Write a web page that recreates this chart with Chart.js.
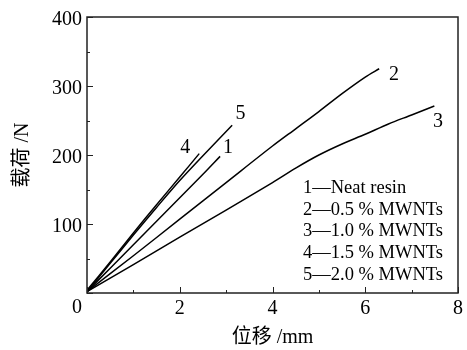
<!DOCTYPE html>
<html>
<head>
<meta charset="utf-8">
<script src="https://cdn.jsdelivr.net/npm/chart.js@4/dist/chart.umd.min.js"></script>
<style>
  html, body { margin: 0; padding: 0; background: #fff; }
  #wrap { width: 467px; height: 350px; }
</style>
</head>
<body>
<div id="wrap"><canvas id="chart"></canvas></div>
<script>
// 位移 (mm) / 载荷 (N)
const xNeat = [0, 0.5, 1, 1.5, 2, 2.5, 2.87];
const yNeat = [2, 36, 70, 104, 138, 172, 198];

const x05 = [0, 1, 2, 3, 4, 4.5, 5, 5.5, 6, 6.3];
const y05 = [2, 54, 107, 160, 213, 238, 263, 289, 313, 325];

const x10 = [0, 1, 2, 3, 4, 4.5, 5, 5.5, 6, 6.5, 7, 7.49];
const y10 = [2, 41, 81, 120, 160, 181, 200, 216, 230, 245, 258, 271];

const x15 = [0, 0.5, 1, 1.5, 2, 2.42];
const y15 = [4, 45, 87, 128, 168, 202];

const x20 = [0, 0.5, 1, 1.5, 2, 2.5, 3.13];
const y20 = [2, 43, 84, 124, 163, 199, 243];

// 曲线编号标注（数据坐标）
const curveTags = ['1', '2', '3', '4', '5'];
const tagX = [3.04, 6.62, 7.57, 2.12, 3.31];
const tagY = [210, 317, 248, 210, 260];

// 图例文字
const legendLines = [
  '1—Neat resin',
  '2—0.5 % MWNTs',
  '3—1.0 % MWNTs',
  '4—1.5 % MWNTs',
  '5—2.0 % MWNTs'
];

const xTickValues = [0, 1, 2, 3, 4, 5, 6, 7, 8];
const yTickValues = [0, 50, 100, 150, 200, 250, 300, 350, 400];

const SERIF = '"Liberation Serif", "Noto Sans CJK SC", serif';

function toPoints(xs, ys) {
  return xs.map((x, i) => ({ x, y: ys[i] }));
}

function lineSet(label, xs, ys) {
  return {
    label,
    data: toPoints(xs, ys),
    borderColor: '#000',
    borderWidth: 1.5,
    pointRadius: 0,
    tension: 0.3,
    fill: false
  };
}

/**
 * 边框、内向刻度、编号与图例
 */
const decorPlugin = {
  id: 'decor',
  afterDraw(chart) {
    const { ctx, chartArea: a, scales } = chart;
    const xs = scales.x, ys = scales.y;
    ctx.save();

    // 边框
    ctx.strokeStyle = '#222';
    ctx.lineWidth = 1.5;
    ctx.strokeRect(a.left, a.top, a.right - a.left, a.bottom - a.top);

    // 刻度（朝内）
    ctx.lineWidth = 1;
    ctx.beginPath();
    xTickValues.forEach(v => {
      const px = Math.round(xs.getPixelForValue(v)) + 0.5;
      const len = v % 2 === 0 ? 6 : 3;
      ctx.moveTo(px, a.bottom);
      ctx.lineTo(px, a.bottom - len);
    });
    yTickValues.forEach(v => {
      const py = Math.round(ys.getPixelForValue(v)) + 0.5;
      const len = v % 100 === 0 ? 6 : 3;
      ctx.moveTo(a.left, py);
      ctx.lineTo(a.left + len, py);
    });
    ctx.stroke();

    ctx.fillStyle = '#000';
    ctx.font = '20px ' + SERIF;

    // 原点 0
    ctx.textAlign = 'center';
    ctx.textBaseline = 'middle';
    ctx.fillText('0', a.left - 10, a.bottom + 15);

    // 曲线编号
    curveTags.forEach((t, i) => {
      ctx.fillText(t, xs.getPixelForValue(tagX[i]), ys.getPixelForValue(tagY[i]));
    });

    // 图例
    ctx.textAlign = 'left';
    ctx.font = '18.5px ' + SERIF;
    legendLines.forEach((s, i) => {
      ctx.fillText(s, a.left + 216, a.top + 171 + i * 21.7);
    });

    ctx.restore();
  }
};

new Chart(document.getElementById('chart'), {
  type: 'line',
  data: {
    datasets: [
      lineSet('Neat resin', xNeat, yNeat),
      lineSet('0.5 % MWNTs', x05, y05),
      lineSet('1.0 % MWNTs', x10, y10),
      lineSet('1.5 % MWNTs', x15, y15),
      lineSet('2.0 % MWNTs', x20, y20)
    ]
  },
  options: {
    responsive: true,
    maintainAspectRatio: false,
    animation: false,
    layout: { padding: { top: 14, right: 4, left: 0, bottom: 0 } },
    plugins: {
      legend: { display: false },
      tooltip: { enabled: false }
    },
    scales: {
      x: {
        type: 'linear',
        min: 0,
        max: 8,
        grid: { display: false, drawTicks: false },
        border: { display: false },
        ticks: {
          stepSize: 2,
          color: '#000',
          padding: 4,
          maxRotation: 0,
          font: { family: SERIF, size: 20 },
          callback: v => (v === 0 ? '' : v)
        },
        title: {
          display: true,
          text: '位移 /mm',
          color: '#000',
          font: { family: SERIF, size: 20 },
          padding: { top: 0, bottom: 0 }
        },
        afterFit: s => { s.height = 57; }
      },
      y: {
        min: 0,
        max: 400,
        grid: { display: false, drawTicks: false },
        border: { display: false },
        ticks: {
          stepSize: 100,
          color: '#000',
          padding: 5,
          labelOffset: 3,
          font: { family: SERIF, size: 20 },
          callback: v => (v === 0 ? '' : v)
        },
        title: {
          display: true,
          text: '载荷 /N',
          color: '#000',
          font: { family: SERIF, size: 20 },
          padding: { top: 11, bottom: 0 }
        },
        afterFit: s => { s.width = 87; }
      }
    }
  },
  plugins: [decorPlugin]
});
</script>
</body>
</html>
